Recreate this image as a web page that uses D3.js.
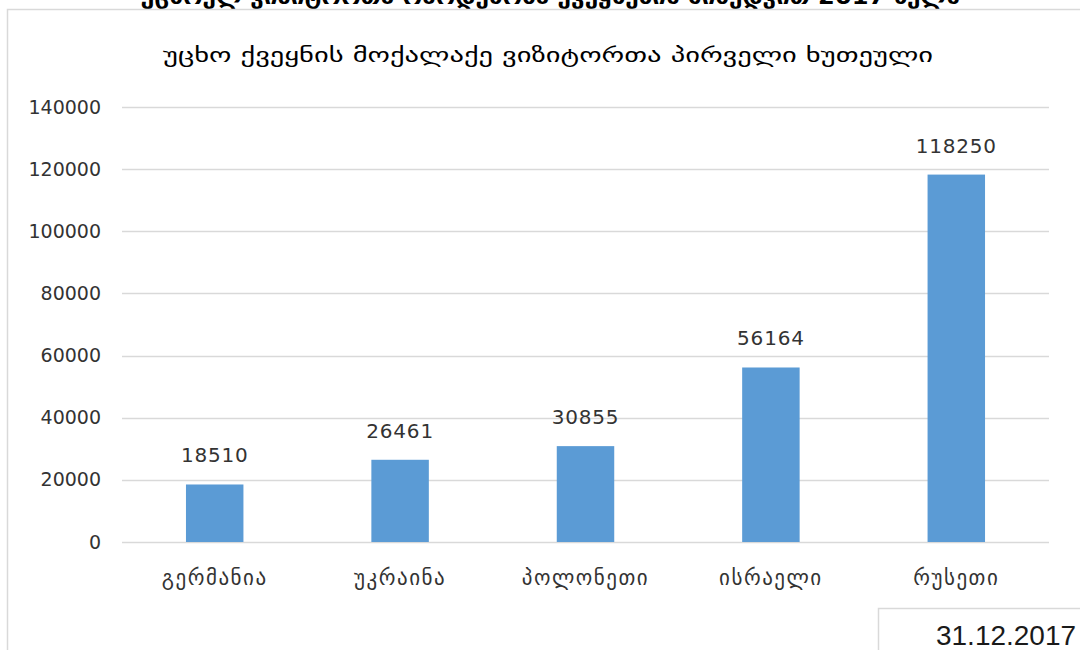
<!DOCTYPE html>
<html>
<head>
<meta charset="utf-8">
<script src="https://cdn.jsdelivr.net/npm/d3@7"></script>
<style>
  html, body { margin: 0; padding: 0; background: #fff; }
  svg { display: block; }
</style>
</head>
<body>
<svg id="chart" width="1080" height="650"></svg>
<script>
// Top five countries by number of foreign visitors (31.12.2017)
const countries = ["გერმანია", "უკრაინა", "პოლონეთი", "ისრაელი", "რუსეთი"];
const visitors = [18510, 26461, 30855, 56164, 118250];
const yTicks = [0, 20000, 40000, 60000, 80000, 100000, 120000, 140000];
const chartTitle = "უცხო ქვეყნის მოქალაქე ვიზიტორთა პირველი ხუთეული";
const pageHeading = "უცხოელ ვიზიტორთა რაოდენობა ქვეყნების მიხედვით 2017 წელს";
const dateLabel = "31.12.2017";

const svg = d3.select("#chart");
const geoFont = "'DejaVu Sans', 'Noto Sans', sans-serif";
const numFont = "'DejaVu Sans', sans-serif";
const textColor = "#333";

// heading of the page above the chart panel (mostly scrolled off)
svg.append("text")
  .attr("x", 550).attr("y", 4)
  .attr("text-anchor", "middle")
  .attr("font-family", geoFont)
  .attr("font-size", 22)
  .attr("font-weight", "bold")
  .attr("fill", "#000")
  .attr("textLength", 820)
  .attr("lengthAdjust", "spacingAndGlyphs")
  .text(pageHeading);

// chart panel
svg.append("rect")
  .attr("x", 7.5).attr("y", 9.5)
  .attr("width", 1100).attr("height", 700)
  .attr("fill", "#fff")
  .attr("stroke", "#d9d9d9").attr("stroke-width", 1.5);

// title
svg.append("text")
  .attr("x", 548).attr("y", 62)
  .attr("text-anchor", "middle")
  .attr("font-family", geoFont)
  .attr("font-size", 20)
  .attr("fill", "#000")
  .attr("textLength", 770)
  .attr("lengthAdjust", "spacingAndGlyphs")
  .text(chartTitle);

const margin = { left: 122, right: 1049, top: 107, bottom: 542 };

const x = d3.scaleBand()
  .domain(countries)
  .range([margin.left, margin.right])
  .paddingInner(0.69)
  .paddingOuter(0.345);

const y = d3.scaleLinear()
  .domain([0, 140000])
  .range([margin.bottom, margin.top]);

// gridlines
svg.append("g")
  .selectAll("line")
  .data(yTicks)
  .join("line")
  .attr("x1", margin.left).attr("x2", margin.right)
  .attr("y1", d => Math.round(y(d)) + 0.5)
  .attr("y2", d => Math.round(y(d)) + 0.5)
  .attr("stroke", "#d9d9d9")
  .attr("stroke-width", 1.5);

// y axis labels
const yAxis = d3.axisLeft(y).tickValues(yTicks).tickSize(0).tickPadding(0).tickFormat(d3.format("d"));
const yg = svg.append("g")
  .attr("transform", `translate(101,0)`)
  .call(yAxis);
yg.select(".domain").remove();
yg.selectAll("text")
  .attr("font-family", numFont)
  .attr("font-size", 19)
  .attr("fill", textColor);

// bars
svg.append("g")
  .selectAll("rect")
  .data(visitors)
  .join("rect")
  .attr("x", (d, i) => x(countries[i]))
  .attr("y", d => y(d))
  .attr("width", x.bandwidth())
  .attr("height", d => y(0) - y(d))
  .attr("fill", "#5b9bd5");

// value labels
svg.append("g")
  .selectAll("text")
  .data(visitors)
  .join("text")
  .attr("x", (d, i) => x(countries[i]) + x.bandwidth() / 2)
  .attr("y", d => y(d) - 22)
  .attr("text-anchor", "middle")
  .attr("font-family", numFont)
  .attr("font-size", 20)
  .attr("letter-spacing", 0.8)
  .attr("fill", textColor)
  .text(d => d);

// category labels
const xAxis = d3.axisBottom(x).tickSize(0).tickPadding(0);
const xg = svg.append("g")
  .attr("transform", `translate(0,${margin.bottom + 43})`)
  .call(xAxis);
xg.select(".domain").remove();
xg.selectAll("text")
  .attr("dy", 0)
  .attr("font-family", geoFont)
  .attr("font-size", 21)
  .attr("letter-spacing", 1.5)
  .attr("fill", textColor);

// date box
svg.append("rect")
  .attr("x", 878.5).attr("y", 608.5)
  .attr("width", 300).attr("height", 100)
  .attr("fill", "#fff")
  .attr("stroke", "#d9d9d9").attr("stroke-width", 1.5);
svg.append("text")
  .attr("x", 936).attr("y", 645)
  .attr("font-family", "'Liberation Sans', Arial, sans-serif")
  .attr("font-size", 27)
  .attr("fill", "#1a1a1a")
  .attr("textLength", 140)
  .attr("lengthAdjust", "spacingAndGlyphs")
  .text(dateLabel);
</script>
</body>
</html>
